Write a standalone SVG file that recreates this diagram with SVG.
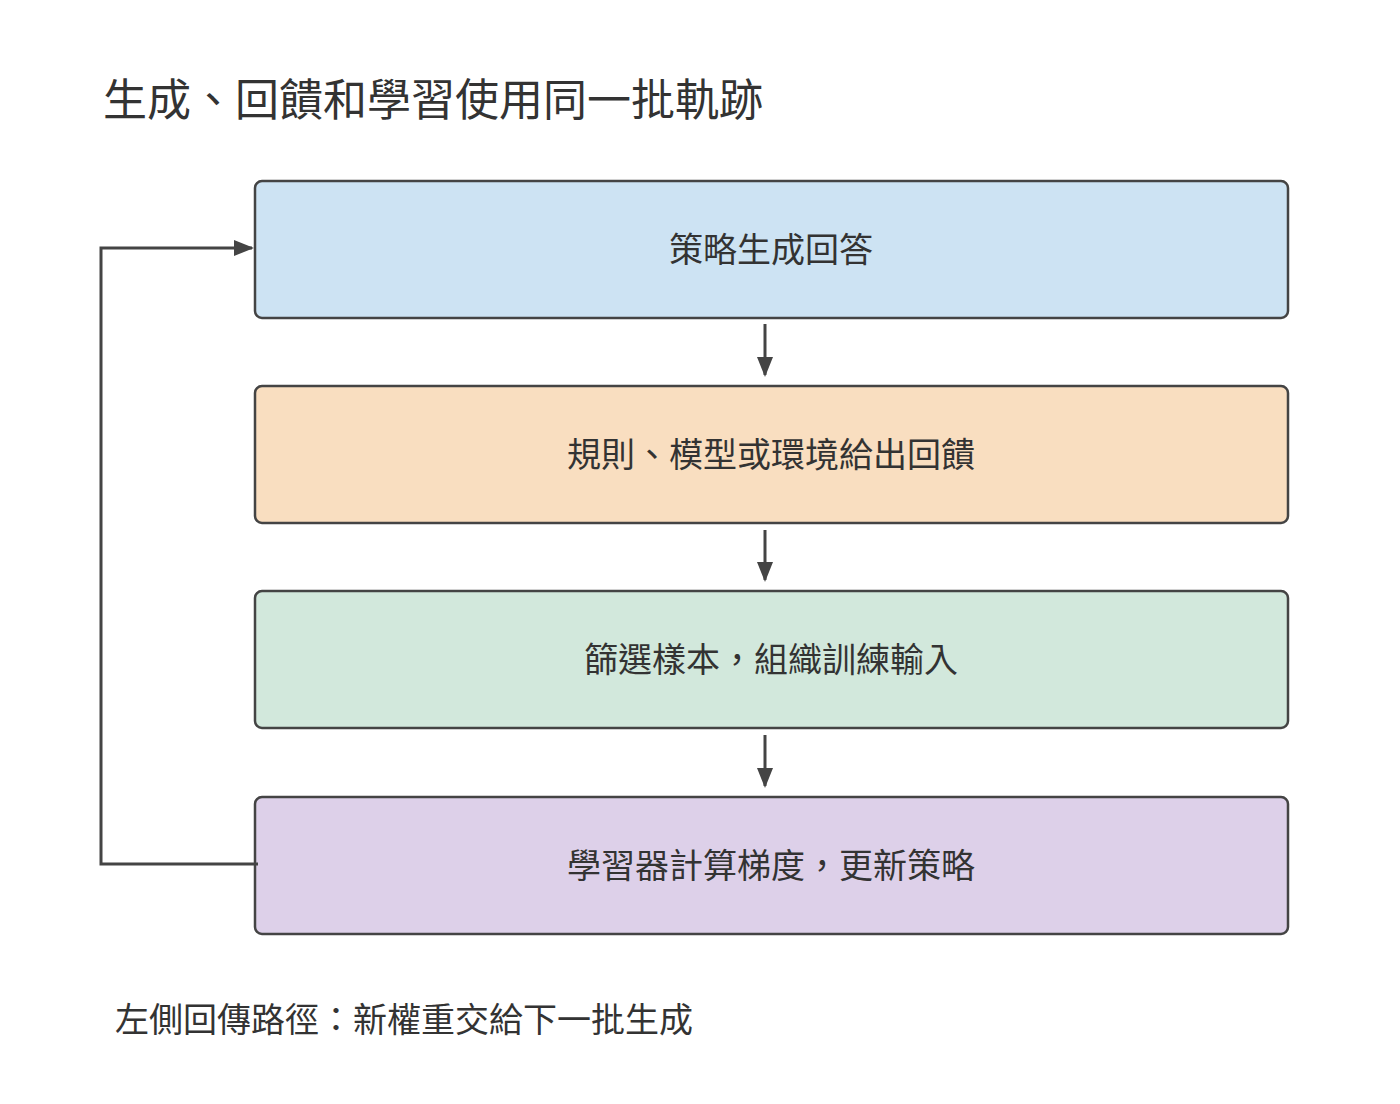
<svg xmlns="http://www.w3.org/2000/svg" width="1400" height="1104" viewBox="0 0 1400 1104">
<style>
text{font-family:"Noto Sans CJK TC","Noto Sans CJK SC",sans-serif;fill:#333}
.box{stroke:#444;stroke-width:2.5}
.lbl{font-size:34px;text-anchor:middle}
.c{fill:none;stroke:#444;stroke-width:3}
</style>
<defs><marker id="a" viewBox="0 0 10 10" refX="9" refY="5" markerWidth="6" markerHeight="6" orient="auto" markerUnits="userSpaceOnUse"><path d="M0,0L10,5L0,10z" fill="#444" transform="scale(1)"/></marker>
<marker id="b" viewBox="0 0 10 10" refX="9" refY="5" markerWidth="20" markerHeight="20" orient="auto" markerUnits="userSpaceOnUse"><path d="M0,1L10,5L0,9z" fill="#444"/></marker></defs>
<rect width="1400" height="1104" fill="#fff"/>
<text x="103" y="116" font-size="44">生成、回饋和學習使用同一批軌跡</text>
<g id="n1"><rect class="box" x="255" y="181" width="1033" height="137" rx="7" fill="#cde3f3"/><text class="lbl" x="771" y="262">策略生成回答</text></g>
<g id="n2"><rect class="box" x="255" y="386" width="1033" height="137" rx="7" fill="#f9dec0"/><text class="lbl" x="771" y="467">規則、模型或環境給出回饋</text></g>
<g id="n3"><rect class="box" x="255" y="591" width="1033" height="137" rx="7" fill="#d2e8dc"/><text class="lbl" x="771" y="672">篩選樣本，組織訓練輸入</text></g>
<g id="n4"><rect class="box" x="255" y="797" width="1033" height="137" rx="7" fill="#ddd0e9"/><text class="lbl" x="771" y="878">學習器計算梯度，更新策略</text></g>
<g id="connectors">
<path class="c" d="M765,324V375" marker-end="url(#b)"/>
<path class="c" d="M765,530V580" marker-end="url(#b)"/>
<path class="c" d="M765,735V786" marker-end="url(#b)"/>
<path class="c" d="M258,864H101V248H252" marker-end="url(#b)"/>
</g>
<text x="115" y="1032" font-size="34">左側回傳路徑：新權重交給下一批生成</text>
</svg>
